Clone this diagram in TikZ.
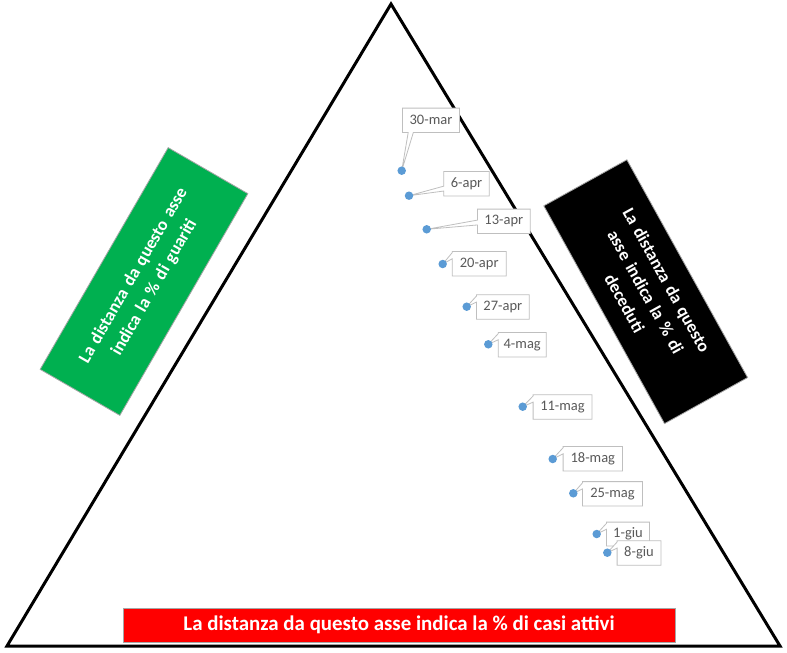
\documentclass[tikz,border=0pt]{standalone}
\usepackage{fontspec}
\setmainfont{Carlito}
\usetikzlibrary{calc}
\pgfdeclarelayer{bg}
\pgfsetlayers{bg,main}
\definecolor{ptblue}{HTML}{5B9BD5}
\definecolor{lblgray}{HTML}{595959}
\definecolor{cogray}{HTML}{BFBFBF}
\definecolor{boxgreen}{HTML}{00B050}
\definecolor{boxred}{HTML}{FF0000}
\definecolor{edgegray}{HTML}{A6A6A6}
\newcommand\leftwedge[4]{%
  \draw[co] (#1.north west) -- ($(#1.north west)!#3!(#1.south west)$) -- (#2.center)
    -- ($(#1.north west)!#4!(#1.south west)$) -- (#1.south west) -- (#1.south east)
    -- (#1.north east) -- cycle;}
\tikzset{
  tri/.style={draw=black, line width=3pt},
  pt/.style={circle, fill=ptblue, inner sep=0pt, minimum size=8.5pt},
  lbl/.style={text=lblgray, font=\fontsize{14.5}{16}\selectfont, inner sep=0pt, minimum height=24pt},
  co/.style={draw=cogray, fill=white, line width=0.8pt, line join=miter},
  axisbox/.style={draw=edgegray, line width=0.8pt, text=white, align=center, inner sep=0pt,
    font=\bfseries\fontsize{17.6}{24}\selectfont},
}
\begin{document}
\begin{tikzpicture}[x=1pt,y=-1pt]
\useasboundingbox (0,0) rectangle (787,653);
% triangle
\coordinate (A) at (391,4);
\coordinate (B) at (7,646);
\coordinate (C) at (780,646);
\begin{pgfonlayer}{bg}
\draw[tri] (A) -- (B) -- (C) -- cycle;
\end{pgfonlayer}
% axis boxes
\node[axisbox, fill=boxgreen, rotate=60, minimum width=256pt, minimum height=92pt, text width=250pt] (gboxn) at (144,281.5)
  {\fontsize{17.6}{24}\selectfont La distanza da questo asse\par indica la \% di guariti\par};
\node[axisbox, fill=black, rotate=-61, minimum width=249pt, minimum height=95pt, text width=244pt] (kboxn) at (645.7,291.7)
  {\fontsize{17.6}{24}\selectfont La distanza da questo\par asse indica la \% di\par deceduti\par};
\node[axisbox, fill=boxred, minimum width=552pt, minimum height=34pt,
  font=\bfseries\fontsize{20.9}{24}\selectfont] (rboxn) at (399,625)
  {La distanza da questo asse indica la \% di casi attivi};
% data points
\node[pt] (p1) at (401.7,170.7) {};
\node[pt] (p2) at (409,195.7) {};
\node[pt] (p3) at (426.7,229.3) {};
\node[pt] (p4) at (442.7,264) {};
\node[pt] (p5) at (466.7,306.7) {};
\node[pt] (p6) at (488.3,344.3) {};
\node[pt] (p7) at (522.7,406.7) {};
\node[pt] (p8) at (552.7,459) {};
\node[pt] (p9) at (573.3,493.3) {};
\node[pt] (p10) at (596.7,534) {};
\node[pt] (p11) at (607.3,552.7) {};
% labels
\node[lbl, minimum width=56.6pt] (b1) at (431,120.3) {30-mar};
\node[lbl, minimum width=45pt] (b2) at (466.5,183.7) {6-apr};
\node[lbl, minimum width=52.3pt] (b3) at (503.8,221.3) {13-apr};
\node[lbl, minimum width=53.7pt] (b4) at (479.2,263.7) {20-apr};
\node[lbl, minimum width=52.3pt] (b5) at (502.8,307) {27-apr};
\node[lbl, minimum width=47.7pt] (b6) at (522.2,344.7) {4-mag};
\node[lbl, minimum width=58.4pt] (b7) at (562.5,407) {11-mag};
\node[lbl, minimum width=59pt] (b8) at (592.8,458.7) {18-mag};
\node[lbl, minimum width=59.6pt] (b9) at (612.5,493.8) {25-mag};
\node[lbl, minimum width=42.6pt, minimum height=23.4pt] (b10) at (628,534) {1-giu};
\node[lbl, minimum width=43.4pt] (b11) at (639,553) {8-giu};
% callout outlines
\begin{pgfonlayer}{bg}
\draw[co] (b1.north west) -- (b1.south west) -- ($(b1.south west)!0.1!(b1.south east)$) -- (p1.center)
  -- ($(b1.south west)!0.19!(b1.south east)$) -- (b1.south east) -- (b1.north east) -- cycle;
\leftwedge{b2}{p2}{0.6}{0.8}
\leftwedge{b3}{p3}{0.45}{0.65}
\leftwedge{b4}{p4}{0.05}{0.3}
\leftwedge{b5}{p5}{0.05}{0.3}
\leftwedge{b6}{p6}{0.05}{0.3}
\leftwedge{b7}{p7}{0.05}{0.3}
\leftwedge{b8}{p8}{0.05}{0.3}
\leftwedge{b9}{p9}{0.05}{0.3}
\leftwedge{b10}{p10}{0.05}{0.3}
\leftwedge{b11}{p11}{0.05}{0.3}
\end{pgfonlayer}
\end{tikzpicture}
\end{document}
